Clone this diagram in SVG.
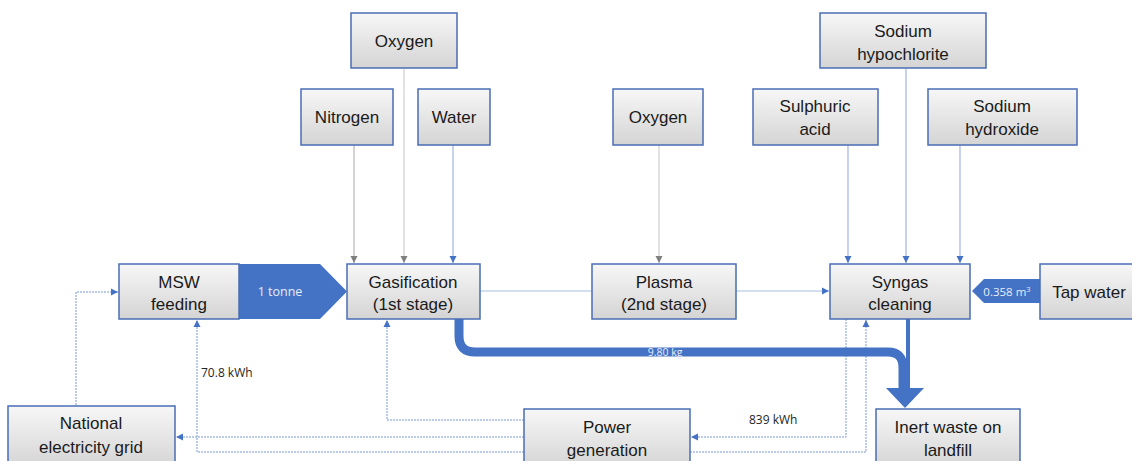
<svg xmlns="http://www.w3.org/2000/svg" width="1132" height="461" viewBox="0 0 1132 461">
  <defs>
    <linearGradient id="boxFill" x1="0" y1="0" x2="0" y2="1">
      <stop offset="0" stop-color="#f7f7f7"/>
      <stop offset="1" stop-color="#d4d4d4"/>
    </linearGradient>
    <marker id="arrGray" markerUnits="userSpaceOnUse" markerWidth="8" markerHeight="8" refX="7" refY="4" orient="auto">
      <path d="M0,0.5 L7,4 L0,7.5 Z" fill="#7f7f7f"/>
    </marker>
    <marker id="arrBlue" markerUnits="userSpaceOnUse" markerWidth="8" markerHeight="8" refX="7" refY="4" orient="auto">
      <path d="M0,0.5 L7,4 L0,7.5 Z" fill="#4472c4"/>
    </marker>
    <style>
      .box { fill: url(#boxFill); stroke: #4a6db5; stroke-width: 1.5; }
      .lbl { font-family: "Liberation Sans", Arial, sans-serif; font-size: 17px; fill: #1a1a1a; text-anchor: middle; }
      .feedGray { stroke: #b8b8b8; stroke-width: 1.2; fill: none; marker-end: url(#arrGray); }
      .feedBlue { stroke: #9fb4e2; stroke-width: 1.2; fill: none; marker-end: url(#arrBlue); }
      .flow { stroke: #a9bde6; stroke-width: 1.2; fill: none; }
      .elec { stroke: #7b97d4; stroke-width: 1; stroke-dasharray: 2 1; fill: none; marker-end: url(#arrBlue); }
      .thick { fill: #4472c4; }
      .qty { font-family: "Open Sans", "Liberation Sans", sans-serif; font-size: 12px; text-anchor: middle; }
      .qtyW { fill: #e8eefa; }
      .qtyD { fill: #262626; font-size: 12px; text-anchor: start; }
    </style>
  </defs>

  <!-- connectors -->
  <g id="connectors">
    <!-- gasification inputs -->
    <line class="feedGray" x1="354" y1="145" x2="354" y2="263"/>
    <line class="feedGray" x1="404" y1="69" x2="404" y2="263" style="stroke:#cfcfcf"/>
    <line class="feedBlue" x1="453" y1="145" x2="453" y2="263"/>
    <!-- plasma input -->
    <line class="feedGray" x1="659" y1="145" x2="659" y2="263" style="stroke:#cfcfcf"/>
    <!-- syngas cleaning inputs -->
    <line class="feedBlue" x1="848" y1="145" x2="848" y2="263"/>
    <line class="feedBlue" x1="906" y1="69" x2="906" y2="263"/>
    <line class="feedBlue" x1="960" y1="145" x2="960" y2="263"/>
    <!-- main gas path -->
    <line class="flow" x1="480" y1="291" x2="592" y2="291"/>
    <line class="flow" x1="736" y1="291" x2="829" y2="291" style="marker-end:url(#arrBlue)"/>

    <!-- electricity flows -->
    <path class="elec" d="M76,405 V292 H118"/>
    <path class="elec" d="M524,437 H176"/>
    <path class="elec" d="M524,452 H197 V320"/>
    <path class="elec" d="M524,420 H387 V320"/>
    <path class="elec" d="M846,319 V437 H691"/>
    <path class="elec" d="M690,452 H866 V320"/>

    <!-- material flows -->
    <polygon class="thick" points="239,264 320,264 347,291.5 320,319 239,319"/>
    <polygon class="thick" points="1040,279 984,279 972,291 984,303 1040,303"/>
    <line x1="908" y1="319" x2="908" y2="392" stroke="#4472c4" stroke-width="4"/>
    <path d="M459,319 V336 Q459,352 475,352 H888 Q903,352 903,368 V392" fill="none" stroke="#4472c4" stroke-width="9"/>
    <polygon class="thick" points="886,388 924,388 905,408"/>

    <!-- flow quantities -->
    <text class="qty qtyW" x="280" y="296" style="font-size:12.5px">1 tonne</text>
    <text class="qty qtyW" x="1007" y="296" style="font-size:11.5px">0.358 m<tspan font-size="7.5" dy="-4">3</tspan></text>
    <text class="qty qtyW" x="665" y="356" style="font-size:10.5px">9.80 kg</text>
    <text class="qty qtyD" x="201" y="377">70.8 kWh</text>
    <text class="qty qtyD" x="749" y="424">839 kWh</text>
  </g>

  <!-- input nodes -->
  <g id="oxygen-gasification">
    <rect class="box" x="351" y="13" width="106" height="55"/>
    <text class="lbl" x="404" y="47">Oxygen</text>
  </g>
  <g id="nitrogen">
    <rect class="box" x="301" y="89" width="92" height="56"/>
    <text class="lbl" x="347" y="123">Nitrogen</text>
  </g>
  <g id="water">
    <rect class="box" x="418" y="89" width="72" height="56"/>
    <text class="lbl" x="454" y="123">Water</text>
  </g>
  <g id="oxygen-plasma">
    <rect class="box" x="613" y="89" width="90" height="56"/>
    <text class="lbl" x="658" y="123">Oxygen</text>
  </g>
  <g id="sodium-hypochlorite">
    <rect class="box" x="820" y="13" width="166" height="55"/>
    <text class="lbl" x="903" y="37">Sodium</text>
    <text class="lbl" x="903" y="60">hypochlorite</text>
  </g>
  <g id="sulphuric-acid">
    <rect class="box" x="753" y="89" width="125" height="56"/>
    <text class="lbl" x="815" y="112">Sulphuric</text>
    <text class="lbl" x="815" y="135">acid</text>
  </g>
  <g id="sodium-hydroxide">
    <rect class="box" x="928" y="89" width="149" height="56"/>
    <text class="lbl" x="1002" y="112">Sodium</text>
    <text class="lbl" x="1002" y="135">hydroxide</text>
  </g>

  <!-- process nodes -->
  <g id="msw-feeding">
    <rect class="box" x="119" y="264" width="120" height="55"/>
    <text class="lbl" x="179" y="288">MSW</text>
    <text class="lbl" x="179" y="310">feeding</text>
  </g>
  <g id="gasification">
    <rect class="box" x="347" y="264" width="133" height="55"/>
    <text class="lbl" x="413" y="288">Gasification</text>
    <text class="lbl" x="413" y="310">(1st stage)</text>
  </g>
  <g id="plasma">
    <rect class="box" x="592" y="264" width="144" height="55"/>
    <text class="lbl" x="664" y="288">Plasma</text>
    <text class="lbl" x="664" y="310">(2nd stage)</text>
  </g>
  <g id="syngas-cleaning">
    <rect class="box" x="830" y="264" width="140" height="55"/>
    <text class="lbl" x="900" y="288">Syngas</text>
    <text class="lbl" x="900" y="310">cleaning</text>
  </g>
  <g id="tap-water">
    <rect class="box" x="1040" y="264" width="100" height="55"/>
    <text class="lbl" x="1089" y="298">Tap water</text>
  </g>

  <!-- output nodes -->
  <g id="national-grid">
    <rect class="box" x="8" y="406" width="167" height="62"/>
    <text class="lbl" x="91" y="429">National</text>
    <text class="lbl" x="91" y="453">electricity grid</text>
  </g>
  <g id="power-generation">
    <rect class="box" x="524" y="409" width="166" height="60"/>
    <text class="lbl" x="607" y="433">Power</text>
    <text class="lbl" x="607" y="456">generation</text>
  </g>
  <g id="inert-waste">
    <rect class="box" x="876" y="409" width="144" height="60"/>
    <text class="lbl" x="948" y="433">Inert waste on</text>
    <text class="lbl" x="948" y="456">landfill</text>
  </g>
</svg>
